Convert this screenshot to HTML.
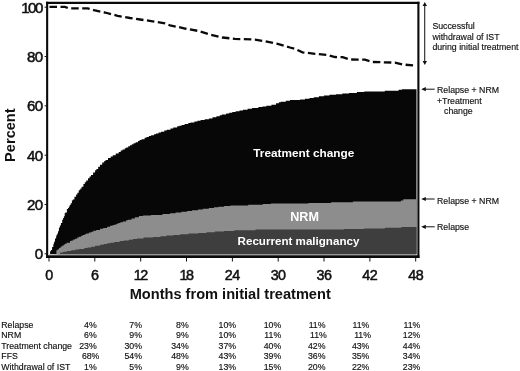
<!DOCTYPE html>
<html><head><meta charset="utf-8"><title>Figure</title>
<style>
html,body{margin:0;padding:0;background:#fff;}
body{width:520px;height:371px;overflow:hidden;}
svg{display:block;}
text{font-family:"Liberation Sans",Arial,Helvetica,sans-serif;fill:#111;}
.tk{font-size:14px;stroke:#111;stroke-width:0.5px;}
.tx{font-size:13.8px;}
.wl{font-size:12px;font-weight:bold;fill:#fff;}
.ax{font-size:14.6px;font-weight:bold;}
.sm{font-size:8.75px;stroke:#111;stroke-width:0.15px;}
</style></head><body>
<svg width="520" height="371" viewBox="0 0 520 371">
<rect width="520" height="371" fill="#fff"/>
<path d="M49.2,254.2 L49.2,253.9 H50.1 V251.3 H50.9 V250.0 H52.1 V247.1 H52.6 H53.3 V244.2 H53.9 V242.5 H54.3 V241.4 H55.0 V239.0 H55.5 V238.0 H56.2 V235.7 H56.7 V234.7 H57.3 V233.4 H58.0 V231.2 H58.9 V228.0 H59.4 V227.3 H59.9 V225.6 H60.9 V222.9 H62.2 V219.8 H63.1 V218.0 H63.9 V216.2 H64.7 V213.3 H65.3 V212.6 H66.9 V209.1 H68.0 V207.9 H68.9 V206.6 H69.8 V205.1 H70.7 V203.3 H71.9 V200.4 H72.8 V199.5 H74.4 V196.8 H76.1 V194.5 H77.4 V192.7 H78.7 V190.5 H79.5 V189.7 H80.4 V188.5 H81.6 V186.7 H83.4 V184.0 H84.8 V182.3 H86.2 V180.6 H88.0 V178.3 H89.6 V176.4 H91.0 V174.9 H93.1 V172.4 H95.1 V170.2 H96.4 V169.0 H98.2 V166.7 H100.0 V164.8 H102.2 V162.5 H104.2 V160.9 H105.6 V159.9 H108.0 V158.0 H109.1 H110.7 V156.5 H112.8 V155.3 H114.0 H115.7 V153.6 H116.7 H118.7 V151.9 H120.7 V150.6 H122.5 V149.6 H124.8 V148.2 H126.2 V147.5 H128.2 V146.3 H130.0 V145.2 H131.8 V144.2 H133.5 V143.3 H135.6 V142.2 H138.0 V140.9 H139.6 V140.1 H141.6 V139.2 H142.6 H144.6 V137.7 H146.5 V137.0 H148.9 V136.1 H151.1 V135.3 H152.5 H154.0 V134.2 H155.9 V133.5 H157.0 H158.6 V132.5 H159.9 H161.0 V131.7 H162.1 H164.2 V130.6 H165.4 H166.7 V129.8 H168.3 H170.5 V128.4 H171.6 H173.2 V127.5 H175.0 H177.2 V126.3 H179.4 V125.7 H181.6 V125.0 H183.0 H184.6 V124.1 H186.1 H188.3 V123.1 H190.6 V122.5 H191.8 H193.1 H194.4 V121.6 H195.7 H197.4 V120.8 H199.2 H200.6 V120.1 H201.6 H203.2 H204.7 V119.2 H206.5 H208.9 V118.4 H210.8 H212.5 V117.3 H214.4 H216.4 V116.2 H217.4 H219.7 V115.2 H221.8 V114.6 H224.0 H226.1 V113.5 H227.7 H229.2 V112.7 H230.4 H232.3 V112.0 H233.3 H234.4 H235.7 V111.2 H237.0 H238.4 H239.5 V110.4 H240.5 H241.7 H242.9 V109.7 H244.4 H245.4 H247.6 V108.7 H249.5 H250.7 H252.1 V108.1 H253.5 H255.1 H256.2 H258.4 V107.1 H260.8 H262.5 V106.4 H264.1 H265.3 H266.4 V105.7 H267.9 H269.2 H271.4 V104.7 H272.6 H273.7 H276.0 V103.2 H277.7 H278.9 V102.3 H280.7 V101.7 H281.7 H283.5 H285.8 V100.7 H288.1 H290.0 V100.0 H291.4 H292.9 H294.1 H296.2 H298.0 H300.1 V99.4 H301.5 H302.8 H305.0 V98.7 H307.3 H309.5 V97.9 H311.7 H313.8 V97.2 H315.9 H317.2 H318.9 V96.3 H320.4 H321.4 H322.5 H323.9 V95.6 H325.2 H327.2 H329.5 V94.8 H331.2 H333.5 H335.9 V94.2 H338.2 H339.7 H341.0 H342.3 V93.6 H343.6 H344.9 H346.8 H349.0 V92.9 H351.2 H352.9 H354.8 H356.9 V92.1 H358.0 H360.0 H362.2 H364.3 V91.4 H366.4 H368.0 H369.3 H371.4 H372.9 H375.0 H377.3 H378.9 H380.5 H382.8 H384.8 V90.8 H386.0 H387.2 H388.4 H390.7 H392.8 H394.0 H396.2 H398.6 V89.8 H400.5 H402.0 V89.2 H403.7 H404.9 H405.9 H408.3 H410.2 H411.9 H414.2 H415.9 H416.5 V89.0 V254.2 Z" fill="#070707"/>
<path d="M54.5,254.2 L54.5,253.9 H56.4 V250.3 H57.7 V249.2 H59.0 V247.9 H60.5 V246.8 H61.8 V245.8 H63.6 V244.4 H65.0 V243.7 H66.6 V242.8 H67.8 H70.0 V241.1 H71.5 V240.4 H73.2 V239.6 H75.0 V238.7 H77.2 V237.5 H78.8 V236.8 H81.1 V235.8 H82.8 V235.1 H84.6 V234.3 H86.3 V233.6 H87.3 H88.9 V232.5 H90.2 H91.2 V231.7 H93.3 V230.7 H94.6 H96.2 V229.9 H98.2 H100.0 V228.8 H101.5 H103.2 V227.9 H105.0 H107.1 V226.7 H108.2 H110.0 V225.8 H111.4 H112.7 V225.1 H114.8 V224.4 H116.5 V223.7 H118.3 V223.1 H120.4 V222.3 H122.7 V221.5 H124.3 H126.1 V220.3 H127.9 V219.7 H129.6 H131.5 V218.4 H133.2 H134.9 V217.3 H136.6 H138.9 V216.1 H140.9 H143.1 V215.5 H145.4 H146.8 H148.6 H150.9 V214.9 H153.1 H154.3 H155.4 H157.1 H158.2 H159.5 H160.6 H162.5 V214.0 H164.6 H166.9 H168.1 H170.1 V213.2 H172.0 H173.2 H175.5 V212.5 H177.8 H179.1 H181.5 V211.7 H183.0 H184.7 H187.1 V210.9 H189.3 H190.5 H192.1 V210.2 H193.8 H195.3 H196.6 H198.0 V209.5 H200.0 H201.0 H202.8 V208.8 H204.4 H205.5 H206.9 H208.8 V208.0 H210.5 H211.6 H214.0 V207.3 H216.1 H218.4 V206.7 H219.6 H221.0 H222.0 H224.1 V206.1 H225.5 H226.7 H228.3 H230.5 V205.4 H232.7 H234.0 H235.3 H237.5 H239.3 H241.3 H242.4 H243.5 H245.5 H247.1 H248.2 V204.8 H250.5 H252.4 H254.5 H255.6 H257.8 H258.9 H261.1 H262.8 V204.1 H264.2 H266.0 H268.3 H269.7 H270.9 V203.5 H272.6 H273.9 H275.1 H276.3 H277.4 H278.7 H280.1 H281.5 H283.6 H285.0 H286.7 H287.9 H289.4 H290.5 H291.8 H292.8 H294.9 H296.6 H297.9 H299.6 H301.9 H303.0 H305.2 H306.8 H308.5 V202.9 H310.6 H312.2 H313.9 H315.9 H318.2 H319.7 H321.9 H323.9 H325.8 H327.3 H328.8 H329.9 H331.1 V202.3 H332.2 H334.2 H335.6 H336.8 H337.9 H340.1 H342.3 H344.2 H345.6 H347.0 H348.4 H350.0 H351.2 H352.9 V201.6 H354.2 H356.6 H358.9 H360.7 H362.1 H364.4 H365.8 H367.3 H368.3 H369.9 H371.5 H373.2 H374.5 H376.2 H377.2 H378.6 H379.7 H381.3 H382.4 H383.4 H384.8 H386.1 H388.0 H389.7 H391.7 H393.7 H395.7 H397.9 H399.4 H400.9 V200.4 H403.3 V199.2 H404.5 H406.5 H408.4 H409.5 H411.6 H413.9 H415.8 H416.5 V199.0 V254.2 Z" fill="#8d8d8d"/>
<path d="M58.0,254.2 L58.0,253.9 H60.1 V252.5 H61.3 H63.1 V251.7 H64.8 H66.9 V251.0 H69.1 H71.2 V250.3 H73.0 H75.3 V249.6 H77.2 H79.2 V249.0 H80.5 H81.6 H82.8 H84.3 V248.1 H85.4 H87.6 V247.5 H89.4 H91.3 V246.7 H93.1 H95.1 V245.8 H96.8 H97.8 H99.9 V244.8 H101.9 H103.6 V244.0 H105.4 H107.3 V243.3 H108.4 H110.4 V242.7 H111.8 H112.9 H114.3 V242.0 H116.3 H117.6 H119.6 V241.1 H122.0 H123.7 V240.5 H125.2 H126.9 H128.8 V239.7 H130.9 H132.8 V239.0 H134.7 H135.8 H137.0 V238.4 H138.3 H140.4 H141.8 H143.6 V237.6 H144.6 H145.7 H147.1 H149.0 H151.0 H152.9 V236.9 H154.3 H156.1 H157.7 H159.4 H160.5 V236.3 H162.8 H164.1 H166.4 V235.6 H168.7 H169.8 H171.4 H173.6 V234.9 H175.9 H177.5 H178.9 H180.2 V234.3 H182.5 H183.8 H185.6 H186.8 H188.6 V233.6 H190.9 H192.1 H194.2 H196.0 H198.2 V233.0 H200.2 H201.5 H203.8 H205.4 H206.5 V232.3 H207.5 H209.2 H210.8 H212.2 H213.4 H214.9 V231.6 H216.3 H218.5 H219.5 H221.6 H223.8 V230.9 H224.9 H227.2 H229.2 H231.5 H232.9 H234.4 V230.2 H236.0 H238.4 H240.2 H241.7 H243.3 H244.7 H245.7 H246.9 H249.0 H250.4 H252.8 H254.1 H255.5 V229.6 H257.2 H258.5 H260.0 H262.3 H264.6 H266.7 H268.6 H270.9 H273.2 H274.9 H277.0 H278.0 H280.0 H281.7 H283.7 H285.6 H287.0 H288.1 H290.4 H291.6 H293.2 H294.7 H296.1 H298.2 H300.5 H301.9 H303.8 H305.2 H307.0 H308.6 H309.8 H311.0 H312.3 H314.6 H316.3 H317.6 H319.9 H322.3 H323.9 H325.1 H326.4 H327.5 H329.0 H330.1 H331.4 H332.8 H334.6 H336.8 H338.9 H340.5 H342.0 H343.8 V229.0 H345.3 H346.8 H347.9 H349.2 H351.6 H352.8 H354.5 H356.4 H358.6 H359.9 H361.3 H362.6 H364.2 V228.4 H365.8 H368.1 H370.3 H372.5 H373.6 H374.6 H376.6 H378.9 H380.5 H382.3 H383.3 H384.9 V227.7 H387.2 H389.3 H391.5 H393.9 H395.2 H396.4 H397.6 H399.3 H401.3 V227.1 H403.6 H405.6 H407.5 H409.6 H411.2 H413.0 H414.1 H416.2 H416.5 V226.8 V254.2 Z" fill="#3e3e3e"/>
<path d="M49.5,6.9 L65.0,6.9 L68.8,8.4 L87.6,8.4 L95.0,10.5 L105.0,12.5 L117.6,15.8 L130.0,18.0 L140.0,19.5 L152.7,21.3 L165.0,23.4 L170.0,25.3 L185.0,28.5 L197.6,30.8 L210.0,34.5 L222.6,37.5 L235.0,38.9 L255.0,39.6 L265.0,41.3 L277.7,43.8 L290.0,47.5 L295.0,48.8 L302.5,52.3 L315.0,53.8 L327.6,55.0 L335.0,57.0 L342.6,57.2 L350.0,59.5 L365.0,59.7 L372.7,62.0 L395.0,62.6 L402.7,64.5 L416.5,65.6" fill="none" stroke="#0a0a0a" stroke-width="2.3" stroke-dasharray="7.5 3.5"/>
<path d="M47.15,1.7 V258.1 M418.4,1.7 V258.1" fill="none" stroke="#0a0a0a" stroke-width="2.1"/>
<path d="M46.1,2.85 H419.45" fill="none" stroke="#0a0a0a" stroke-width="2.3"/>
<path d="M46.1,256.6 H419.45" fill="none" stroke="#0a0a0a" stroke-width="2.9"/>
<line x1="44.6" x2="46.5" y1="253.8" y2="253.8" stroke="#111" stroke-width="1"/>
<text transform="translate(42.7,259.3) scale(1.08,1)" text-anchor="end" class="tk" style="letter-spacing:-0.5px">0</text>
<line x1="44.6" x2="46.5" y1="204.5" y2="204.5" stroke="#111" stroke-width="1"/>
<text transform="translate(42.7,210.0) scale(1.08,1)" text-anchor="end" class="tk" style="letter-spacing:-0.5px">20</text>
<line x1="44.6" x2="46.5" y1="155.2" y2="155.2" stroke="#111" stroke-width="1"/>
<text transform="translate(42.7,160.7) scale(1.08,1)" text-anchor="end" class="tk" style="letter-spacing:-0.5px">40</text>
<line x1="44.6" x2="46.5" y1="105.8" y2="105.8" stroke="#111" stroke-width="1"/>
<text transform="translate(42.7,111.3) scale(1.08,1)" text-anchor="end" class="tk" style="letter-spacing:-0.5px">60</text>
<line x1="44.6" x2="46.5" y1="56.5" y2="56.5" stroke="#111" stroke-width="1"/>
<text transform="translate(42.7,62.0) scale(1.08,1)" text-anchor="end" class="tk" style="letter-spacing:-0.5px">80</text>
<line x1="44.6" x2="46.5" y1="7.2" y2="7.2" stroke="#111" stroke-width="1"/>
<text transform="translate(41.7,12.7) scale(1.08,1)" text-anchor="end" class="tk" style="letter-spacing:-1.5px">100</text>
<line y1="257.5" y2="261.5" x1="49.0" x2="49.0" stroke="#111" stroke-width="1"/>
<text transform="translate(49.0,279.7) scale(1.04,1)" text-anchor="middle" class="tk tx" style="letter-spacing:-0.5px">0</text>
<line y1="257.5" y2="261.5" x1="94.8" x2="94.8" stroke="#111" stroke-width="1"/>
<text transform="translate(94.8,279.7) scale(1.04,1)" text-anchor="middle" class="tk tx" style="letter-spacing:-0.5px">6</text>
<line y1="257.5" y2="261.5" x1="140.7" x2="140.7" stroke="#111" stroke-width="1"/>
<text transform="translate(140.2,279.7) scale(1.04,1)" text-anchor="middle" class="tk tx" style="letter-spacing:-1.4px">12</text>
<line y1="257.5" y2="261.5" x1="186.5" x2="186.5" stroke="#111" stroke-width="1"/>
<text transform="translate(186.0,279.7) scale(1.04,1)" text-anchor="middle" class="tk tx" style="letter-spacing:-1.4px">18</text>
<line y1="257.5" y2="261.5" x1="232.4" x2="232.4" stroke="#111" stroke-width="1"/>
<text transform="translate(232.3,279.7) scale(1.04,1)" text-anchor="middle" class="tk tx" style="letter-spacing:-0.5px">24</text>
<line y1="257.5" y2="261.5" x1="278.2" x2="278.2" stroke="#111" stroke-width="1"/>
<text transform="translate(278.1,279.7) scale(1.04,1)" text-anchor="middle" class="tk tx" style="letter-spacing:-0.5px">30</text>
<line y1="257.5" y2="261.5" x1="324.0" x2="324.0" stroke="#111" stroke-width="1"/>
<text transform="translate(324.0,279.7) scale(1.04,1)" text-anchor="middle" class="tk tx" style="letter-spacing:-0.5px">36</text>
<line y1="257.5" y2="261.5" x1="369.9" x2="369.9" stroke="#111" stroke-width="1"/>
<text transform="translate(369.8,279.7) scale(1.04,1)" text-anchor="middle" class="tk tx" style="letter-spacing:-0.5px">42</text>
<line y1="257.5" y2="261.5" x1="415.7" x2="415.7" stroke="#111" stroke-width="1"/>
<text transform="translate(415.7,279.7) scale(1.04,1)" text-anchor="middle" class="tk tx" style="letter-spacing:-0.5px">48</text>
<text x="253.3" y="156.9" class="wl" style="font-size:11.8px">Treatment change</text>
<text x="290.2" y="220.5" class="wl" style="font-size:12.6px">NRM</text>
<text x="237.6" y="244.9" class="wl" style="font-size:11.6px">Recurrent malignancy</text>
<text x="129.7" y="298.6" class="ax">Months from initial treatment</text>
<text transform="translate(15.0,161.9) rotate(-90)" class="ax">Percent</text>
<line x1="424.7" x2="424.7" y1="4" y2="63" stroke="#222" stroke-width="1.1"/>
<path d="M424.8,2 L427,6 L422.6,6 Z M424.8,65 L427,61 L422.6,61 Z" fill="#111"/>
<text x="432.4" y="29.4" class="sm">Successful</text>
<text x="432.4" y="39.8" class="sm">withdrawal of IST</text>
<text x="432.4" y="50.2" class="sm">during initial treatment</text>
<line x1="423" x2="434.7" y1="89.2" y2="89.2" stroke="#111" stroke-width="1"/>
<path d="M421.2,89.2 l4.6,-2.1 v4.2 Z" fill="#111"/>
<line x1="423" x2="434.7" y1="199.0" y2="199.0" stroke="#111" stroke-width="1"/>
<path d="M421.2,199.0 l4.6,-2.1 v4.2 Z" fill="#111"/>
<line x1="423" x2="434.7" y1="226.8" y2="226.8" stroke="#111" stroke-width="1"/>
<path d="M421.2,226.8 l4.6,-2.1 v4.2 Z" fill="#111"/>
<text x="437" y="93.2" class="sm">Relapse + NRM</text>
<text x="437" y="103.6" class="sm">+Treatment</text>
<text x="444" y="114" class="sm">change</text>
<text x="437" y="203.6" class="sm">Relapse + NRM</text>
<text x="437" y="230.2" class="sm">Relapse</text>
<text x="1.3" y="327.5" class="sm">Relapse</text>
<text x="96.7" y="327.5" text-anchor="end" class="sm">4%</text>
<text x="142.0" y="327.5" text-anchor="end" class="sm">7%</text>
<text x="188.7" y="327.5" text-anchor="end" class="sm">8%</text>
<text x="236.1" y="327.5" text-anchor="end" class="sm">10%</text>
<text x="281.2" y="327.5" text-anchor="end" class="sm">10%</text>
<text x="325.5" y="327.5" text-anchor="end" class="sm">11%</text>
<text x="369.4" y="327.5" text-anchor="end" class="sm">11%</text>
<text x="420.3" y="327.5" text-anchor="end" class="sm">11%</text>
<text x="1.3" y="338.0" class="sm">NRM</text>
<text x="96.7" y="338.0" text-anchor="end" class="sm">6%</text>
<text x="142.0" y="338.0" text-anchor="end" class="sm">9%</text>
<text x="188.7" y="338.0" text-anchor="end" class="sm">9%</text>
<text x="236.1" y="338.0" text-anchor="end" class="sm">10%</text>
<text x="281.2" y="338.0" text-anchor="end" class="sm">11%</text>
<text x="326.9" y="338.0" text-anchor="end" class="sm">11%</text>
<text x="371.0" y="338.0" text-anchor="end" class="sm">11%</text>
<text x="420.3" y="338.0" text-anchor="end" class="sm">12%</text>
<text x="1.3" y="348.7" class="sm">Treatment change</text>
<text x="96.7" y="348.7" text-anchor="end" class="sm">23%</text>
<text x="142.0" y="348.7" text-anchor="end" class="sm">30%</text>
<text x="188.7" y="348.7" text-anchor="end" class="sm">34%</text>
<text x="236.1" y="348.7" text-anchor="end" class="sm">37%</text>
<text x="281.2" y="348.7" text-anchor="end" class="sm">40%</text>
<text x="325.5" y="348.7" text-anchor="end" class="sm">42%</text>
<text x="369.4" y="348.7" text-anchor="end" class="sm">43%</text>
<text x="420.3" y="348.7" text-anchor="end" class="sm">44%</text>
<text x="1.3" y="359.3" class="sm">FFS</text>
<text x="99.4" y="359.3" text-anchor="end" class="sm">68%</text>
<text x="142.0" y="359.3" text-anchor="end" class="sm">54%</text>
<text x="188.7" y="359.3" text-anchor="end" class="sm">48%</text>
<text x="236.1" y="359.3" text-anchor="end" class="sm">43%</text>
<text x="281.2" y="359.3" text-anchor="end" class="sm">39%</text>
<text x="325.5" y="359.3" text-anchor="end" class="sm">36%</text>
<text x="369.4" y="359.3" text-anchor="end" class="sm">35%</text>
<text x="420.3" y="359.3" text-anchor="end" class="sm">34%</text>
<text x="1.3" y="369.9" class="sm">Withdrawal of IST</text>
<text x="96.7" y="369.9" text-anchor="end" class="sm">1%</text>
<text x="142.0" y="369.9" text-anchor="end" class="sm">5%</text>
<text x="188.7" y="369.9" text-anchor="end" class="sm">9%</text>
<text x="236.1" y="369.9" text-anchor="end" class="sm">13%</text>
<text x="281.2" y="369.9" text-anchor="end" class="sm">15%</text>
<text x="325.5" y="369.9" text-anchor="end" class="sm">20%</text>
<text x="369.4" y="369.9" text-anchor="end" class="sm">22%</text>
<text x="420.3" y="369.9" text-anchor="end" class="sm">23%</text>
</svg>
</body></html>
